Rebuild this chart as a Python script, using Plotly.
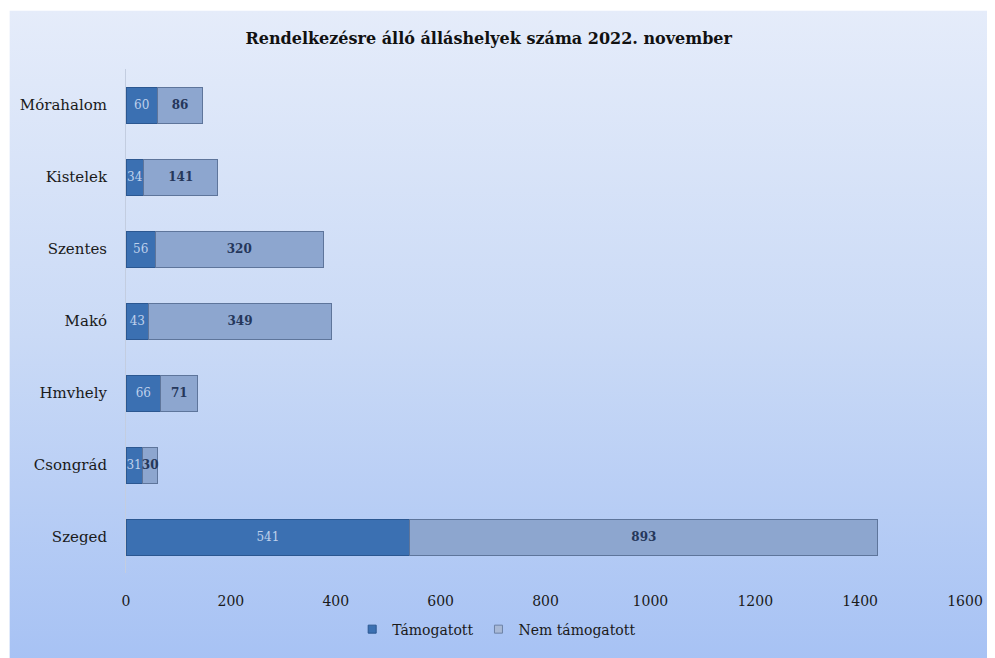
import base64
import plotly.graph_objects as go

categories = ["Szeged", "Csongrád", "Hmvhely", "Makó", "Szentes", "Kistelek", "Mórahalom"]
tamogatott = [541, 31, 66, 43, 56, 34, 60]
nem_tamogatott = [893, 30, 71, 349, 320, 141, 86]
x_ticks = [0, 200, 400, 600, 800, 1000, 1200, 1400, 1600]

FONT = "DejaVu Serif"
OFF = 8  # default page body margin

svg = (
    '<svg xmlns="http://www.w3.org/2000/svg" width="100" height="100" preserveAspectRatio="none">'
    '<defs><linearGradient id="g" x1="0" y1="0" x2="0" y2="1">'
    '<stop offset="0" stop-color="#E5ECFA"/><stop offset="0.5" stop-color="#CADAF6"/>'
    '<stop offset="1" stop-color="#A7C2F4"/></linearGradient></defs>'
    '<rect x="0" y="0" width="100" height="100" fill="url(#g)"/></svg>'
)
svg_uri = "data:image/svg+xml;base64," + base64.b64encode(svg.encode()).decode()

W, H = 995 - OFF, 658 - OFF
L = 125 - OFF
R = W - (967 - OFF)
T = 69 - OFF
B = H - (577 - OFF)
pw, ph = W - L - R, H - T - B

def px(xs):  # screen x -> paper
    return (xs - OFF - L) / pw

def py(ys):  # screen y -> paper
    return (H - B - (ys - OFF)) / ph

fig = go.Figure()
fig.add_trace(go.Bar(
    y=categories, x=tamogatott, orientation="h", name="Támogatott", showlegend=False,
    marker=dict(color="#3B70B2", line=dict(color="#2B5791", width=1)),
    text=[str(v) for v in tamogatott], textposition="inside", insidetextanchor="middle",
    textangle=0, textfont=dict(family=FONT, size=12, color="#BFD1EC"),
    constraintext="none", width=0.5,
))
fig.add_trace(go.Bar(
    y=categories, x=nem_tamogatott, orientation="h", name="Nem támogatott", showlegend=False,
    marker=dict(color="#8DA6CF", line=dict(color="#5E759B", width=1)),
    text=["<b>%d</b>" % v for v in nem_tamogatott], textposition="inside", insidetextanchor="middle",
    textangle=0, textfont=dict(family=FONT, size=12, color="#25375B"),
    constraintext="none", width=0.5,
))
# legend entries with small square symbols
fig.add_trace(go.Scatter(x=[None], y=[None], mode="markers", name="Támogatott",
                         marker=dict(symbol="square", size=8, color="#3B70B2",
                                     line=dict(color="#2B5791", width=1))))
fig.add_trace(go.Scatter(x=[None], y=[None], mode="markers", name="Nem támogatott",
                         marker=dict(symbol="square", size=8, color="#A9B9D6",
                                     line=dict(color="#6D82A6", width=1))))

fig.update_layout(
    width=W, height=H,
    barmode="stack",
    paper_bgcolor="white", plot_bgcolor="rgba(0,0,0,0)",
    margin=dict(l=L, r=R, t=T, b=B),
    uniformtext=dict(minsize=12, mode="show"),
    font=dict(family=FONT, size=15, color="#1A1A1A"),
    title=dict(text="<b>Rendelkezésre álló álláshelyek száma 2022. november</b>",
               x=px(489), xref="paper", xanchor="center", y=1 - (38 - OFF) / H, yanchor="middle",
               font=dict(family=FONT, size=16, color="#111111")),
    xaxis=dict(range=[0, 1600], tickvals=x_ticks, ticktext=[str(v) for v in x_ticks],
               showgrid=False, zeroline=False, showline=False, ticks="",
               tickfont=dict(family=FONT, size=14, color="#1A1A1A"), ticklabelstandoff=18),
    yaxis=dict(categoryorder="array", categoryarray=categories, range=[-0.5, 6.5],
               showgrid=False, zeroline=False, showline=True, linecolor="#C3CDE0", linewidth=1,
               ticks="", ticklabelstandoff=15,
               tickfont=dict(family=FONT, size=15, color="#1A1A1A")),
    legend=dict(orientation="h", x=px(497), xanchor="center", y=py(634), yanchor="middle",
                font=dict(family=FONT, size=14, color="#1A1A1A"), itemwidth=30,
                bgcolor="rgba(0,0,0,0)", traceorder="normal", tracegroupgap=0),
    images=[dict(source=svg_uri, xref="paper", yref="paper",
                 x=px(8), y=py(10), sizex=px(1000) - px(8), sizey=py(10) - py(665),
                 xanchor="left", yanchor="top", sizing="stretch", layer="below")],
)

fig.write_html("out.html")
